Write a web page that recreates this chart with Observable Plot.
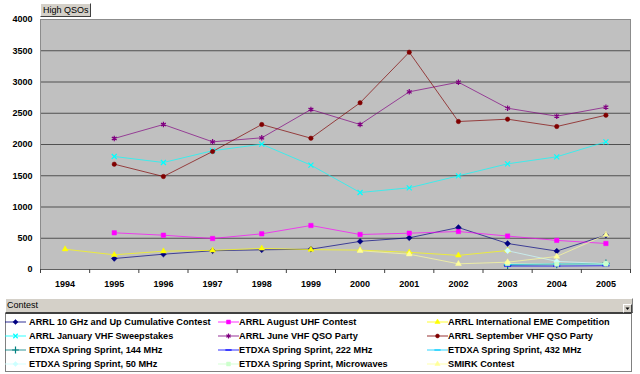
<!DOCTYPE html>
<html><head><meta charset="utf-8">
<script src="https://cdn.jsdelivr.net/npm/d3@7"></script>
<script src="https://cdn.jsdelivr.net/npm/@observablehq/plot@0.6"></script>
<style>
body{margin:0;background:#fff;font-family:"Liberation Sans",Arial,sans-serif;}
#wrap{position:relative;width:640px;height:374px;overflow:hidden;background:#fff;}
#chart{position:absolute;left:0;top:0;}
#chart svg{font-weight:bold;}
.btn{position:absolute;left:40px;top:3px;width:47px;height:12px;background:#d4d0c8;border:1px solid;border-color:#fff #404040 #404040 #fff;font-size:9px;line-height:12px;padding-left:2px;color:#000;white-space:nowrap;}
#legHead{position:absolute;left:5px;top:298px;width:625px;height:13px;background:#d4d0c8;border:1px solid;border-color:#fff #808080 #404040 #fff;font-size:9px;line-height:13px;padding-left:1px;color:#000;}
#legDrop{position:absolute;left:623px;top:304px;width:7px;height:7px;background:#d4d0c8;border:1px solid;border-color:#fff #404040 #404040 #fff;}
#legBody{position:absolute;left:5px;top:313px;width:625px;height:57px;background:#fff;border:1px solid #808080;border-top-color:#404040;}
.item{position:absolute;height:14px;line-height:14px;font-size:9.2px;font-weight:bold;color:#000;white-space:nowrap;}
.sw{position:absolute;}
</style></head><body><div id="wrap"><div id="chart"></div></div>
<script>
const years = [1994,1995,1996,1997,1998,1999,2000,2001,2002,2003,2004,2005];
const yTicks = [0,500,1000,1500,2000,2500,3000,3500,4000];
const seriesNames = [
  "ARRL 10 GHz and Up Cumulative Contest",
  "ARRL August UHF Contest",
  "ARRL International EME Competition",
  "ARRL January VHF Sweepstakes",
  "ARRL June VHF QSO Party",
  "ARRL September VHF QSO Party",
  "ETDXA Spring Sprint, 144 MHz",
  "ETDXA Spring Sprint, 222 MHz",
  "ETDXA Spring Sprint, 432 MHz",
  "ETDXA Spring Sprint, 50 MHz",
  "ETDXA Spring Sprint, Microwaves",
  "SMIRK Contest"
];
const tenGHz     = [null,176,245,300,315,325,450,507,672,416,295,549];
const augUHF     = [null,587,549,496,571,704,560,581,608,535,466,416];
const eme        = [325,235,293,306,338,318,310,275,226,304,null,null];
const janVHF     = [null,1808,1712,1900,2005,1670,1232,1307,1499,1691,1803,2043];
const juneVHF    = [null,2096,2320,2043,2107,2560,2320,2843,2997,2581,2453,2597];
const septVHF    = [null,1685,1488,1888,2320,2101,2667,3477,2368,2405,2288,2469];
const sprint144  = [null,null,null,null,null,null,null,null,null,70,80,100];
const sprint222  = [null,null,null,null,null,null,null,null,null,55,55,60];
const sprint432  = [null,null,null,null,null,null,null,null,null,80,90,85];
const sprint50   = [null,null,null,null,null,null,null,null,null,300,130,95];
const microwaves = [null,null,null,null,null,null,null,null,null,95,85,90];
const smirk      = [null,null,null,null,null,null,300,245,91,117,208,555];
const seriesValues = [tenGHz,augUHF,eme,janVHF,juneVHF,septVHF,sprint144,sprint222,sprint432,sprint50,microwaves,smirk];
const colors = ["#000080","#FF00FF","#FFFF00","#00FFFF","#800080","#800000","#008080","#0000FF","#00CCFF","#CCFFFF","#CCFFCC","#FFFF99"];

const dash = {draw(ctx, size){ const w = Math.sqrt(size)*0.9; ctx.moveTo(-w,0); ctx.lineTo(w,0); }};
const symbols = ["diamond2","square2","triangle2","times","asterisk","circle","plus",dash,dash,"diamond2","square2","triangle2"];
const filled = [true,true,true,false,false,true,false,false,false,true,true,true];
const radii = [2.6,2.8,2.8,2.4,2.6,2.2,2.6,2.2,2.2,2.6,2.8,2.8];

const boundaries = d3.range(1993.5, 2006, 1);

const marks = [
  Plot.frame({fill:"#c0c0c0", stroke:null}),
  Plot.ruleY(yTicks.filter(d => d > 0 && d < 4000), {stroke:"#505050", strokeWidth:1}),
  Plot.frame({stroke:"#8c8c8c"}),
  Plot.ruleY([0], {stroke:"#606060"}),
  Plot.axisY({ticks: yTicks, tickSize:0, tickPadding:8, tickFormat: d => String(d), label: null}),
  Plot.axisX({ticks: boundaries, tickSize:4, tickFormat: () => "", stroke:"#404040", label: null}),
  Plot.axisX({ticks: years, tickSize:0, tickPadding:11, tickFormat: d => String(d), label: null})
];
seriesValues.forEach((vals, i) => {
  const data = years.map((y, j) => ({year: y, value: vals[j], series: seriesNames[i]}));
  marks.push(Plot.line(data, {x:"year", y:"value", stroke: colors[i], strokeWidth:1, strokeOpacity:0.68}));
  marks.push(Plot.dot(data.filter(d => d.value != null), {
    x:"year", y:"value", symbol: symbols[i], r: radii[i],
    fill: filled[i] ? colors[i] : "none", stroke: colors[i], strokeWidth: filled[i] ? 0.5 : 1.2
  }));
});

const chart = Plot.plot({
  width: 640, height: 292,
  marginTop: 19, marginLeft: 40, marginRight: 10, marginBottom: 23,
  style: {fontFamily: '"Liberation Sans", Arial, sans-serif', fontSize: "9px", color:"#000", background:"transparent"},
  x: {type:"linear", domain:[1993.5, 2005.5], label: null},
  y: {domain:[0,4000], label: null},
  marks
});
const wrap = document.getElementById("wrap");
document.getElementById("chart").appendChild(chart);

// Title button
const btn = document.createElement("div");
btn.className = "btn"; btn.textContent = "High QSOs";
wrap.appendChild(btn);

// Legend
const head = document.createElement("div"); head.id = "legHead"; head.textContent = "Contest"; wrap.appendChild(head);
const drop = document.createElement("div"); drop.id = "legDrop";
drop.innerHTML = '<svg width="7" height="7" style="display:block"><path d="M1.5,2.5 L5.5,2.5 L3.5,5 Z" fill="#000"/></svg>';
wrap.appendChild(drop);
const body = document.createElement("div"); body.id = "legBody"; wrap.appendChild(body);

const d3Sym = {diamond2: d3.symbolDiamond2, square2: d3.symbolSquare2, triangle2: d3.symbolTriangle2, times: d3.symbolTimes, asterisk: d3.symbolAsterisk, circle: d3.symbolCircle, plus: d3.symbolPlus};
const swX = [5, 218, 427], txX = [29, 239, 448];
seriesNames.forEach((name, i) => {
  const row = Math.floor(i / 3), col = i % 3;
  const cy = 322.3 + 13.8 * row;
  const symType = typeof symbols[i] === "string" ? d3Sym[symbols[i]] : symbols[i];
  const path = d3.symbol(symType, Math.PI * radii[i] * radii[i] * 0.8)();
  const sw = document.createElementNS("http://www.w3.org/2000/svg", "svg");
  sw.setAttribute("width", 22); sw.setAttribute("height", 10);
  sw.setAttribute("class", "sw");
  sw.style.left = swX[col] + "px"; sw.style.top = (cy - 5) + "px";
  sw.innerHTML = `<line x1="0" x2="21" y1="5" y2="5" stroke="${colors[i]}" stroke-opacity="0.68" stroke-width="1.2"/>` +
    `<path transform="translate(10.5,5)" d="${path}" fill="${filled[i] ? colors[i] : "none"}" stroke="${colors[i]}" stroke-width="${filled[i] ? 0.5 : 1.2}"/>`;
  wrap.appendChild(sw);
  const t = document.createElement("div");
  t.className = "item"; t.textContent = name;
  t.style.left = txX[col] + "px"; t.style.top = (cy - 7) + "px";
  wrap.appendChild(t);
});
</script></body></html>
